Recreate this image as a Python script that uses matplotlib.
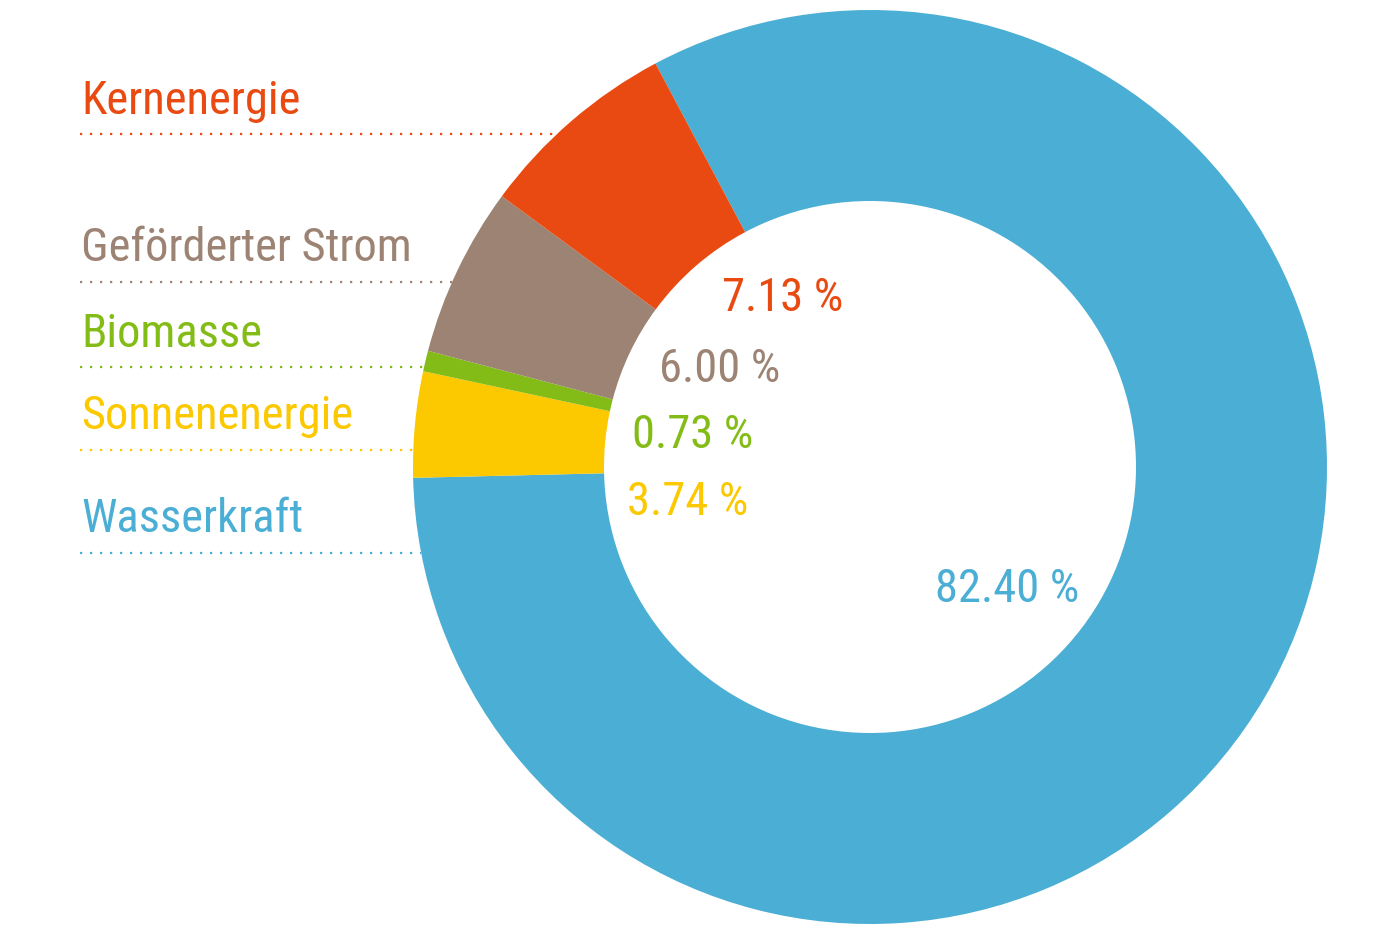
import os
import numpy as np
import matplotlib
matplotlib.use("Agg")
import matplotlib.pyplot as plt
from matplotlib import font_manager

# Anteile am Strommix (im Uhrzeigersinn ab Wasserkraft)
labels = ["Wasserkraft", "Sonnenenergie", "Biomasse", "Geförderter Strom", "Kernenergie"]
shares = [82.40, 3.74, 0.73, 6.00, 7.13]
colors = ["#4baed4", "#fcc800", "#84bc17", "#9c8373", "#e84a12"]

# Legendenreihenfolge links (von oben)
legend_order = ["Kernenergie", "Geförderter Strom", "Biomasse", "Sonnenenergie", "Wasserkraft"]

W, H = 1400, 934
cx, cy, R = 870, 467, 457


def narrow_font():
    # look for a condensed regular face among the installed fonts
    wanted = ["robotocondensed-regular", "liberationsansnarrow-regular",
              "notosans-condensed.", "notosans-condensedregular",
              "opensans_condensed-regular", "dejavusanscondensed."]
    files = {os.path.basename(f.fname).lower(): f.fname
             for f in font_manager.fontManager.ttflist}
    for w in wanted:
        for base, path in files.items():
            if base.startswith(w):
                return path
    return None


path = narrow_font()
if path:
    fp = font_manager.FontProperties(fname=path)
else:
    fp = font_manager.FontProperties(family="DejaVu Sans")
fp.set_size(33.5)

fig = plt.figure(figsize=(W / 100, H / 100), dpi=100)

# donut
ax = fig.add_axes([(cx - R) / W, (H - cy - R) / H, 2 * R / W, 2 * R / H])
ax.pie(shares, colors=colors, startangle=118, counterclock=False, radius=1,
       wedgeprops=dict(width=1 - 266 / R, linewidth=0))
ax.set_xlim(-1, 1)
ax.set_ylim(-1, 1)
ax.set_aspect("equal")
ax.axis("off")

# overlay in pixel coords for labels
ov = fig.add_axes([0, 0, 1, 1])
ov.set_zorder(5)
ov.set_xlim(0, W)
ov.set_ylim(H, 0)
ov.axis("off")
ov.patch.set_alpha(0)

label_base = {"Kernenergie": 114, "Geförderter Strom": 261, "Biomasse": 347,
              "Sonnenenergie": 429, "Wasserkraft": 532}
line_y = {"Kernenergie": 134, "Geförderter Strom": 282, "Biomasse": 367,
          "Sonnenenergie": 450, "Wasserkraft": 553}

for name in legend_order:
    c = colors[labels.index(name)]
    ov.text(81, label_base[name], name, color=c, fontproperties=fp,
            va="baseline", ha="left")
    y = line_y[name]
    x_end = cx - np.sqrt(R ** 2 - (y - cy) ** 2)
    ov.plot([80, x_end], [y, y], color=c, lw=1.6, linestyle=(0, (1, 3.5)),
            dash_capstyle="butt")

# Prozentwerte im Loch
pct_pos = {"Kernenergie": (722, 311), "Geförderter Strom": (659, 382),
           "Biomasse": (632, 448), "Sonnenenergie": (627, 515),
           "Wasserkraft": (935, 602)}
for name, val, c in zip(labels, shares, colors):
    x, y = pct_pos[name]
    ov.text(x, y, f"{val:.2f} %", color=c, fontproperties=fp,
            va="baseline", ha="left")

fig.savefig("out.png", dpi=100, facecolor="white")
